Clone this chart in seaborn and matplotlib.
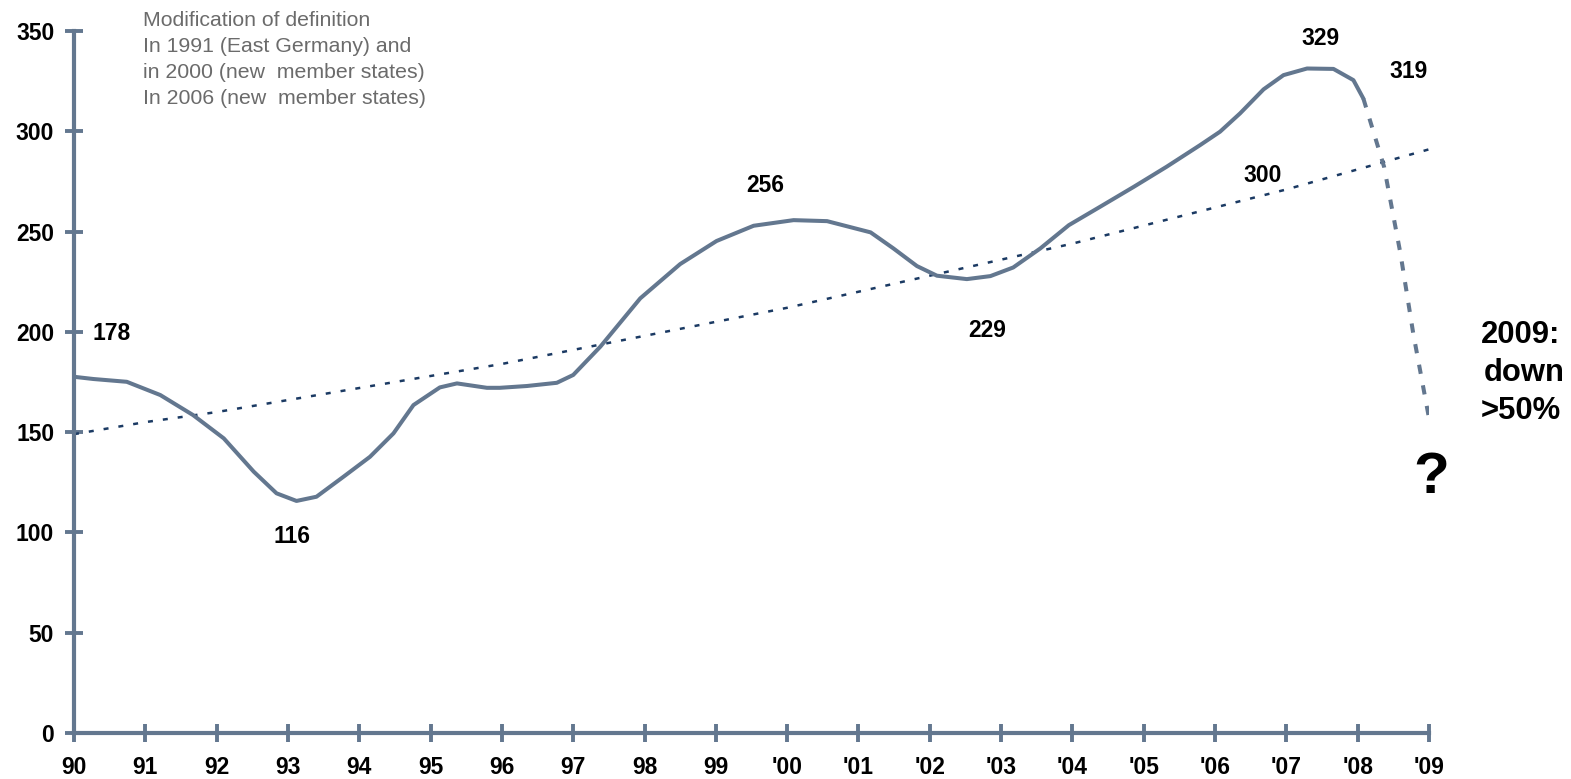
#!/usr/bin/env python3

import pandas as pd
import numpy as np
from matplotlib import pyplot as plt
import seaborn as sns

# index curve (fractional years)
years = [1990.0, 1990.27, 1990.74, 1991.21, 1991.67, 1992.1, 1992.52, 1992.84,
         1993.12, 1993.4, 1993.78, 1994.15, 1994.48, 1994.76, 1995.13, 1995.37,
         1995.79, 1995.97, 1996.35, 1996.77, 1997.0, 1997.38, 1997.94, 1998.5,
         1999.01, 1999.53, 2000.09, 2000.56, 2001.17, 2001.49, 2001.82, 2002.1,
         2002.52, 2002.85, 2003.17, 2003.55, 2003.95, 2004.39, 2004.86, 2005.32,
         2005.79, 2006.07, 2006.35, 2006.68, 2006.96, 2007.29, 2007.66, 2007.94,
         2008.08]
values = [177.6, 176.5, 175.1, 168.5, 158.5, 146.9, 130.3, 119.5,
          115.7, 117.8, 127.8, 137.7, 149.4, 163.5, 172.3, 174.3,
          172.1, 172.1, 173.0, 174.6, 178.5, 192.6, 216.7, 233.8,
          245.3, 252.9, 255.7, 255.2, 249.6, 241.6, 232.8, 228.0,
          226.3, 227.8, 232.1, 241.6, 253.2, 262.4, 272.3, 282.3,
          293.1, 299.8, 308.9, 320.9, 328.0, 331.3, 331.1, 325.5,
          316.3]

# projected drop into 2009
drop_years = [2008.08, 2008.37, 2008.6, 2008.78, 2009.0]
drop_values = [316.3, 282.3, 239.0, 199.0, 157.0]

# long-term trend
trend_years = list(range(1990, 2010))
trend_values = [149, 155, 160, 166, 172, 178, 184, 191, 198, 205,
                212, 220, 228, 236, 244, 253, 262, 271, 281, 291]

tick_years = list(range(1990, 2010))
tick_labels = ["90", "91", "92", "93", "94", "95", "96", "97", "98", "99",
               "'00", "'01", "'02", "'03", "'04", "'05", "'06", "'07", "'08", "'09"]

point_labels = ["178", "116", "256", "229", "300", "329", "319"]
label_pos = [(1990.53, 199.4), (1993.06, 98.2), (1999.69, 273.2), (2002.81, 200.9),
             (2006.66, 278.2), (2007.48, 346.5), (2008.72, 330.0)]

note_lines = ["Modification of definition",
              "In 1991 (East Germany) and",
              "in 2000 (new  member states)",
              "In 2006 (new  member states)"]

side_lines = ["2009:", "down", ">50%"]

sns.set_style("white")
plt.rcParams["font.family"] = ["Liberation Sans", "DejaVu Sans"]

line_col = "#63778f"
trend_col = "#1b3a63"

df = pd.DataFrame({"Year": years, "Value": values})
df_drop = pd.DataFrame({"Year": drop_years, "Value": drop_values})
df_trend = pd.DataFrame({"Year": trend_years, "Value": trend_values})

W, H = 1571, 779
fig = plt.figure(figsize=(W / 100, H / 100), dpi=100)
ax = fig.add_axes([74 / W, 1 - 733 / H, (1429 - 74) / W, (733 - 31) / H])

sns.lineplot(data=df_trend, x="Year", y="Value", ax=ax, color=trend_col, linewidth=1.8)
ax.lines[-1].set_dashes((2.0, 4.0))
sns.lineplot(data=df, x="Year", y="Value", ax=ax, color=line_col, linewidth=2.9)
sns.lineplot(data=df_drop, x="Year", y="Value", ax=ax, color=line_col, linewidth=2.9)
ax.lines[-1].set_dashes((2.3, 2.9))

ax.set_xlim(1990, 2009)
ax.set_ylim(0, 350)
ax.set_xticks(tick_years)
ax.set_xticklabels(tick_labels)
ax.set_yticks(np.arange(0, 351, 50))
ax.set_xlabel("")
ax.set_ylabel("")

for side in ["top", "right"]:
    ax.spines[side].set_visible(False)
for side in ["left", "bottom"]:
    ax.spines[side].set_color(line_col)
    ax.spines[side].set_linewidth(3)
ax.tick_params(axis="both", bottom=True, left=True, direction="inout", length=12.5,
               width=2.8, color=line_col, labelsize=16.5, labelcolor="black")
ax.tick_params(axis="y", pad=8)
ax.tick_params(axis="x", pad=10)
for lab in ax.get_xticklabels() + ax.get_yticklabels():
    lab.set_fontweight("bold")

for txt, (x, y) in zip(point_labels, label_pos):
    ax.text(x, y, txt, ha="center", va="center", fontsize=16.5, fontweight="bold",
            color="black", clip_on=False)

ax.text(2009.03, 119.6, "?", ha="center", va="baseline", fontsize=42, fontweight="bold",
        color="black", clip_on=False)
for i, (line, xp) in enumerate(zip(side_lines, [1521, 1524, 1521])):
    fig.text(xp / W, 1 - (343 + 38 * i) / H, line, ha="center", va="baseline",
             fontsize=22.3, fontweight="bold", color="black")

for i, line in enumerate(note_lines):
    fig.text(143 / W, 1 - (20 + 26 * i) / H, line, ha="left", va="center",
             fontsize=15.3, color="#6b6b6b")

fig.savefig("out.png", dpi=100)
